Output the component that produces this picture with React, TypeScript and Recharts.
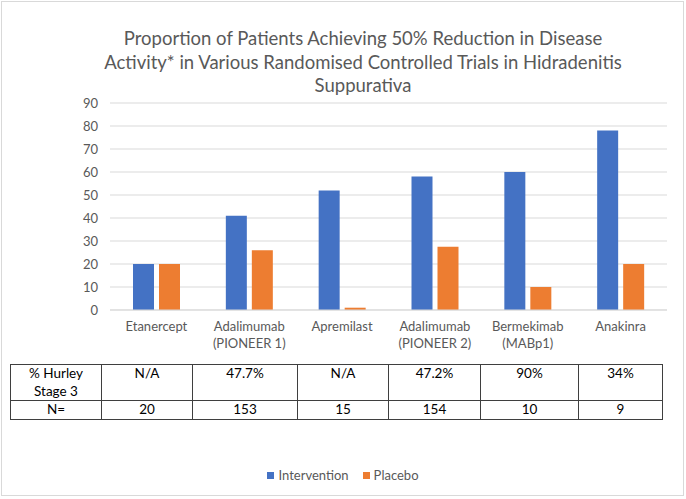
import React from "react";
import { BarChart, Bar, XAxis, YAxis, CartesianGrid, Legend } from "recharts";

const trials = [
  "Etanercept",
  "Adalimumab\n(PIONEER 1)",
  "Apremilast",
  "Adalimumab\n(PIONEER 2)",
  "Bermekimab\n(MABp1)",
  "Anakinra",
];
const intervention = [20, 41, 52, 58, 60, 78];
const placebo = [20, 26, 1, 27.5, 10, 20];
const yTicks = [0, 10, 20, 30, 40, 50, 60, 70, 80, 90];

const tableRowLabels = ["% Hurley\nStage 3", "N="];
const hurleyStage3 = ["N/A", "47.7%", "N/A", "47.2%", "90%", "34%"];
const trialN = ["20", "153", "15", "154", "10", "9"];

const COLORS = { intervention: "#4472C4", placebo: "#ED7D31" };
const FONT = "Lato, 'Open Sans', sans-serif";
const GREY = "#595959";

const data = trials.map((name, i) => ({
  name,
  Intervention: intervention[i],
  Placebo: placebo[i],
}));

const TrialTick = (props: any) => {
  const { x, y, payload } = props;
  const lines = String(payload.value).split("\n");
  return (
    <text x={x} y={y} textAnchor="middle" fill={GREY} fontSize={13} fontFamily={FONT}>
      {lines.map((l, i) => (
        <tspan key={i} x={x} dy={i === 0 ? 21 : 16.5}>
          {l}
        </tspan>
      ))}
    </text>
  );
};

const LegendContent = (props: any) => {
  const { payload } = props;
  return (
    <div style={{ display: "flex", justifyContent: "center", alignItems: "center", fontFamily: FONT, fontSize: 13, color: GREY }}>
      {payload.map((p: any, i: number) => (
        <div key={i} style={{ display: "flex", alignItems: "center", marginRight: i === 0 ? 14 : 0 }}>
          <span style={{ width: 7, height: 7, background: p.color, display: "inline-block", marginRight: 4 }} />
          <span>{p.value}</span>
        </div>
      ))}
    </div>
  );
};

const colWidths = [91, 91, 105, 91, 92, 98, 84];

const cellStyle: React.CSSProperties = {
  border: "1px solid #3f3f3f",
  padding: 0,
  textAlign: "center",
  verticalAlign: "top",
  whiteSpace: "pre-line",
};

export default function App() {
  return (
    <div style={{ position: "absolute", left: 0, top: 0, width: 686, height: 499, background: "#fff" }}>
      <div style={{ position: "absolute", left: 1, top: 1, width: 681, height: 493, border: "1px solid #d9d9d9" }} />
      <div
        style={{
          position: "absolute",
          left: 40,
          top: 27,
          width: 646,
          textAlign: "center",
          fontFamily: FONT,
          fontSize: 18.5,
          lineHeight: "23.5px",
          color: GREY,
        }}
      >
        Proportion of Patients Achieving 50% Reduction in Disease
        <br />
        Activity* in Various Randomised Controlled Trials in Hidradenitis
        <br />
        Suppurativa
      </div>
      <BarChart
        width={686}
        height={499}
        data={data}
        margin={{ top: 103, right: 19, left: 50, bottom: 149 }}
        barSize={21}
        barGap={5}
      >
        <CartesianGrid vertical={false} stroke="#d9d9d9" />
        <XAxis
          dataKey="name"
          height={40}
          tickLine={false}
          tickSize={0}
          tickMargin={0}
          axisLine={{ stroke: "#d9d9d9" }}
          tick={<TrialTick />}
          interval={0}
        />
        <YAxis
          width={60}
          domain={[0, 90]}
          ticks={yTicks}
          axisLine={false}
          tickLine={false}
          tickSize={0}
          tickMargin={12}
          tick={{ fill: GREY, fontSize: 13, fontFamily: FONT }}
        />
        <Legend
          layout="horizontal"
          verticalAlign="middle"
          align="center"
          content={<LegendContent />}
          wrapperStyle={{ top: 467, left: 0, width: 686 }}
        />
        <Bar dataKey="Intervention" fill={COLORS.intervention} isAnimationActive={false} />
        <Bar dataKey="Placebo" fill={COLORS.placebo} isAnimationActive={false} />
      </BarChart>
      <table
        style={{
          position: "absolute",
          left: 10,
          top: 364,
          borderCollapse: "collapse",
          tableLayout: "fixed",
          width: 652,
          fontFamily: FONT,
          fontSize: 13.5,
          lineHeight: "17.5px",
          color: "#000",
        }}
      >
        <colgroup>
          {colWidths.map((w, i) => (
            <col key={i} style={{ width: w }} />
          ))}
        </colgroup>
        <tbody>
          <tr style={{ height: 36 }}>
            <td style={cellStyle}>{tableRowLabels[0]}</td>
            {hurleyStage3.map((v, i) => (
              <td key={i} style={cellStyle}>{v}</td>
            ))}
          </tr>
          <tr style={{ height: 17 }}>
            <td style={cellStyle}>{tableRowLabels[1]}</td>
            {trialN.map((v, i) => (
              <td key={i} style={cellStyle}>{v}</td>
            ))}
          </tr>
        </tbody>
      </table>
    </div>
  );
}
